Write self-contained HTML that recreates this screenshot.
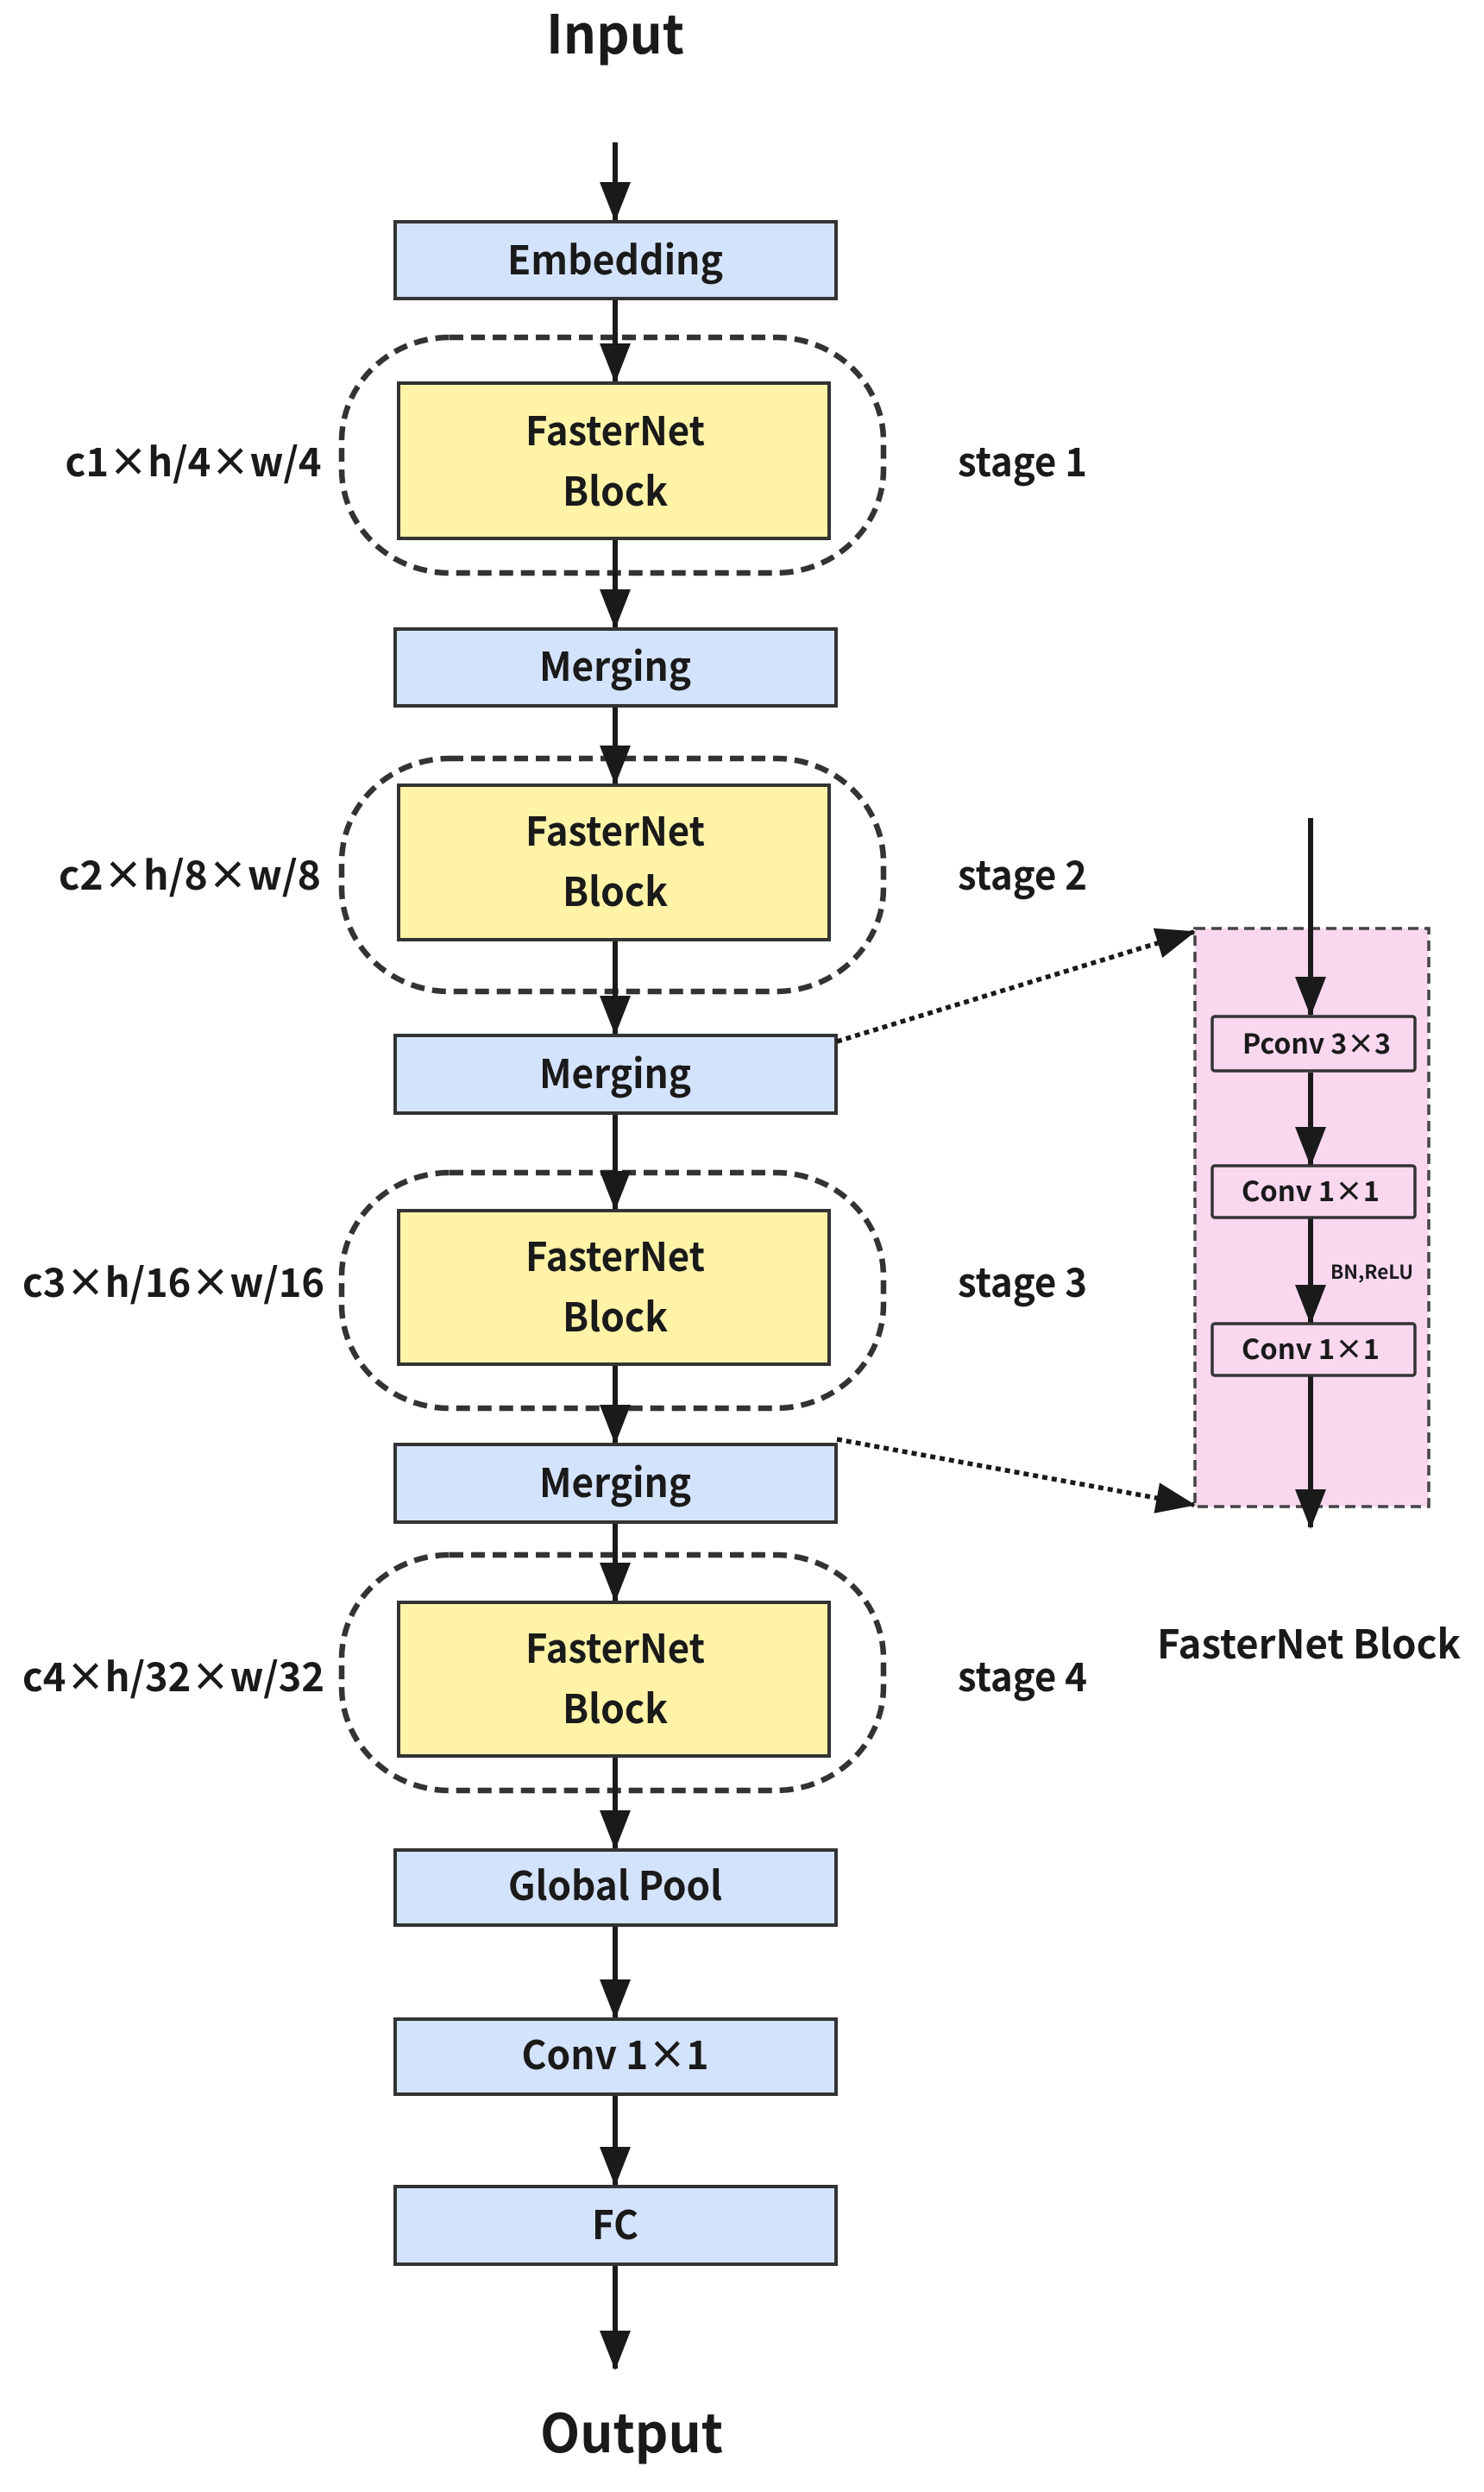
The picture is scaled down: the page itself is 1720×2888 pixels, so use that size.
<!DOCTYPE html>
<html><head><meta charset="utf-8"><style>html,body{margin:0;padding:0;background:#fff}svg{display:block}</style></head>
<body>
<svg width="1720" height="2888" viewBox="0 0 1720 2888" xmlns="http://www.w3.org/2000/svg" font-family="'Noto Sans CJK SC','Liberation Sans',sans-serif">
<defs>
<marker id="ah" markerUnits="userSpaceOnUse" markerWidth="46" markerHeight="36" refX="44" refY="18" orient="auto" viewBox="0 0 46 36"><path d="M0,0 L46,18 L0,36 Z" fill="#1a1a1a"/></marker>
</defs>
<g fill="#1a1a1a" text-anchor="middle">
<text x="713" y="62" font-size="62" font-weight="bold" textLength="160" lengthAdjust="spacingAndGlyphs">Input</text>
<text x="732" y="2842" font-size="62" font-weight="bold" textLength="212" lengthAdjust="spacingAndGlyphs">Output</text>
</g>
<g fill="none" stroke="#333" stroke-width="6.5" stroke-dasharray="16 9">
<rect x="396" y="391" width="628" height="273" rx="125" ry="120"/>
<rect x="396" y="879" width="628" height="270" rx="125" ry="120"/>
<rect x="396" y="1359" width="628" height="273" rx="125" ry="120"/>
<rect x="396" y="1802" width="628" height="273" rx="125" ry="120"/>
</g>
<g stroke="#1a1a1a" stroke-width="6" marker-end="url(#ah)">
<line x1="713" y1="165" x2="713" y2="255"/>
<line x1="713" y1="346" x2="713" y2="442"/>
<line x1="713" y1="624" x2="713" y2="727"/>
<line x1="713" y1="818" x2="713" y2="908"/>
<line x1="713" y1="1089" x2="713" y2="1198"/>
<line x1="713" y1="1290" x2="713" y2="1401"/>
<line x1="713" y1="1581" x2="713" y2="1672"/>
<line x1="713" y1="1764" x2="713" y2="1855"/>
<line x1="713" y1="2035" x2="713" y2="2142"/>
<line x1="713" y1="2231" x2="713" y2="2338"/>
<line x1="713" y1="2427" x2="713" y2="2532"/>
<line x1="713" y1="2624" x2="713" y2="2745"/>
</g>
<g stroke="#333" stroke-width="4">
<rect x="458" y="257" width="511" height="89" fill="#d4e3fc"/>
<rect x="462" y="444" width="499" height="180" fill="#fff3a8"/>
<rect x="458" y="729" width="511" height="89" fill="#d4e3fc"/>
<rect x="462" y="910" width="499" height="179" fill="#fff3a8"/>
<rect x="458" y="1200" width="511" height="90" fill="#d4e3fc"/>
<rect x="462" y="1403" width="499" height="178" fill="#fff3a8"/>
<rect x="458" y="1674" width="511" height="90" fill="#d4e3fc"/>
<rect x="462" y="1857" width="499" height="178" fill="#fff3a8"/>
<rect x="458" y="2144" width="511" height="87" fill="#d4e3fc"/>
<rect x="458" y="2340" width="511" height="87" fill="#d4e3fc"/>
<rect x="458" y="2534" width="511" height="90" fill="#d4e3fc"/>
</g>
<g fill="#1a1a1a" text-anchor="middle" font-size="46" font-weight="bold">
<text x="713" y="318" textLength="250" lengthAdjust="spacingAndGlyphs">Embedding</text>
<text x="713" y="516" textLength="208" lengthAdjust="spacingAndGlyphs">FasterNet</text>
<text x="713" y="586" textLength="122" lengthAdjust="spacingAndGlyphs">Block</text>
<text x="713" y="789" textLength="176" lengthAdjust="spacingAndGlyphs">Merging</text>
<text x="713" y="980" textLength="208" lengthAdjust="spacingAndGlyphs">FasterNet</text>
<text x="713" y="1050" textLength="122" lengthAdjust="spacingAndGlyphs">Block</text>
<text x="713" y="1261" textLength="176" lengthAdjust="spacingAndGlyphs">Merging</text>
<text x="713" y="1473" textLength="208" lengthAdjust="spacingAndGlyphs">FasterNet</text>
<text x="713" y="1543" textLength="122" lengthAdjust="spacingAndGlyphs">Block</text>
<text x="713" y="1735" textLength="176" lengthAdjust="spacingAndGlyphs">Merging</text>
<text x="713" y="1927" textLength="208" lengthAdjust="spacingAndGlyphs">FasterNet</text>
<text x="713" y="1997" textLength="122" lengthAdjust="spacingAndGlyphs">Block</text>
<text x="713" y="2202" textLength="248" lengthAdjust="spacingAndGlyphs">Global Pool</text>
<text x="713" y="2398" textLength="217" lengthAdjust="spacingAndGlyphs">Conv 1×1</text>
<text x="713" y="2595" textLength="54" lengthAdjust="spacingAndGlyphs">FC</text>
</g>
<g fill="#1a1a1a" text-anchor="middle" font-size="46" font-weight="bold">
<text x="224" y="552" textLength="297" lengthAdjust="spacingAndGlyphs">c1×h/4×w/4</text>
<text x="220" y="1031" textLength="304" lengthAdjust="spacingAndGlyphs">c2×h/8×w/8</text>
<text x="201" y="1503" textLength="350" lengthAdjust="spacingAndGlyphs">c3×h/16×w/16</text>
<text x="201" y="1960" textLength="350" lengthAdjust="spacingAndGlyphs">c4×h/32×w/32</text>
<text x="1185" y="552" textLength="150" lengthAdjust="spacingAndGlyphs">stage 1</text>
<text x="1185" y="1031" textLength="150" lengthAdjust="spacingAndGlyphs">stage 2</text>
<text x="1185" y="1503" textLength="150" lengthAdjust="spacingAndGlyphs">stage 3</text>
<text x="1185" y="1960" textLength="150" lengthAdjust="spacingAndGlyphs">stage 4</text>
<text x="1517" y="1922" textLength="352" lengthAdjust="spacingAndGlyphs">FasterNet Block</text>
</g>
<rect x="1385" y="1076" width="271" height="670" fill="#f8d7ef" stroke="#444" stroke-width="3.5" stroke-dasharray="12 7"/>
<g stroke="#1a1a1a" stroke-width="6" marker-end="url(#ah)">
<line x1="1519" y1="948" x2="1519" y2="1176"/>
<line x1="1519" y1="1243" x2="1519" y2="1350"/>
<line x1="1519" y1="1411" x2="1519" y2="1533"/>
<line x1="1519" y1="1594" x2="1519" y2="1770"/>
</g>
<g stroke="#333" stroke-width="3.5" fill="#f8d7ef">
<rect x="1405" y="1178" width="235" height="63" rx="3"/>
<rect x="1405" y="1351" width="235" height="60" rx="3"/>
<rect x="1405" y="1534" width="235" height="60" rx="3"/>
</g>
<g fill="#1a1a1a" text-anchor="middle" font-size="32" font-weight="bold">
<text x="1526" y="1221" textLength="172" lengthAdjust="spacingAndGlyphs">Pconv 3×3</text>
<text x="1519" y="1392" textLength="160" lengthAdjust="spacingAndGlyphs">Conv 1×1</text>
<text x="1519" y="1575" textLength="160" lengthAdjust="spacingAndGlyphs">Conv 1×1</text>
<text x="1590" y="1482" font-size="22" textLength="96" lengthAdjust="spacingAndGlyphs">BN,ReLU</text>
</g>
<g stroke="#1a1a1a" stroke-width="5.5" stroke-dasharray="6 5" fill="none" marker-end="url(#ah)">
<line x1="970" y1="1207" x2="1384" y2="1080"/>
<line x1="970" y1="1668" x2="1384" y2="1744"/>
</g>
</svg>
</body></html>
